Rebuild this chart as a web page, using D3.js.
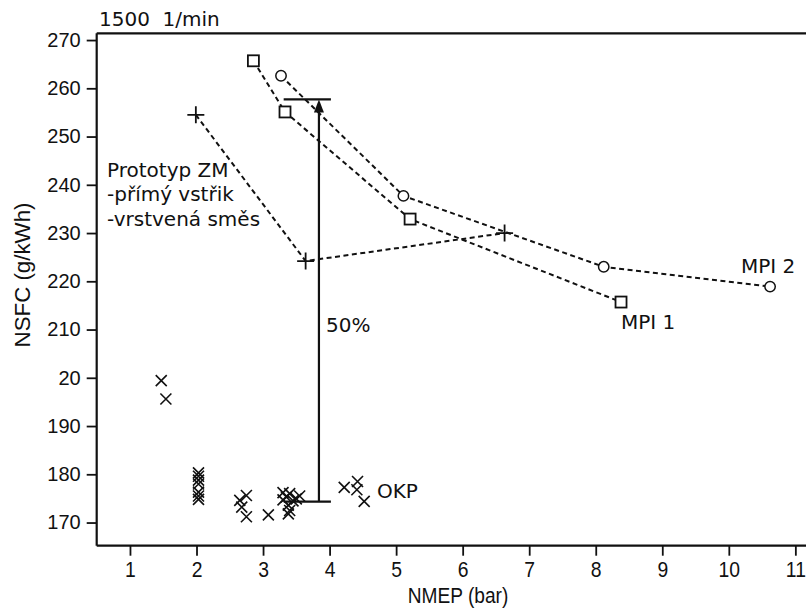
<!DOCTYPE html>
<html>
<head>
<meta charset="utf-8">
<script src="https://cdn.jsdelivr.net/npm/d3@7"></script>
<style>
  html, body { margin: 0; padding: 0; background: #fff; }
  svg { display: block; }
  .anno { font-family: "DejaVu Sans", Verdana, sans-serif; font-size: 20px; fill: #111; }
  .ytl { font-family: "Liberation Sans", Arial, sans-serif; font-size: 20px; fill: #111; }
  .narrow { font-family: "Liberation Sans", Arial, sans-serif; fill: #111; }
</style>
</head>
<body>
<svg id="chart" width="806" height="608"></svg>
<script>
// ---- data ----
const xTicks = [1, 2, 3, 4, 5, 6, 7, 8, 9, 10, 11];
const xTickLabels = ["1", "2", "3", "4", "5", "6", "7", "8", "9", "10", "11"];
const yTicks = [170, 180, 190, 200, 210, 220, 230, 240, 250, 260, 270];
const yTickLabels = ["170", "180", "190", "20", "210", "220", "230", "240", "250", "260", "270"];

const mpi1X = [2.855, 3.33, 5.21, 8.38];
const mpi1Y = [265.7, 255.1, 232.9, 215.7];
const mpi2X = [3.27, 5.11, 8.12, 10.62];
const mpi2Y = [262.6, 237.7, 223.0, 218.9];
const zmX = [1.99, 3.64, 6.63];
const zmY = [254.5, 224.2, 230.0];

const okpX = [1.47, 1.54,
  2.03, 2.03, 2.03, 2.03, 2.03, 2.03, 2.03,
  2.65, 2.75, 2.68, 2.75,
  3.08,
  3.30, 3.40, 3.35, 3.30, 3.45, 3.38, 3.40, 3.38, 3.55, 3.50,
  4.22, 4.42, 4.41, 4.52];
const okpY = [199.4, 195.6,
  180.3, 179.6, 178.8, 178.0, 176.3, 175.5, 174.8,
  174.6, 175.6, 173.2, 171.2,
  171.6,
  176.2, 176.0, 175.3, 174.7, 174.5, 173.6, 172.5, 171.8, 175.5, 174.9,
  177.3, 178.5, 176.8, 174.4];

const arrowX = 3.84;
const arrowFromY = 174.35;
const arrowToY = 257.7;
const barX = [3.31, 4.02];

const speedLabel = "1500\u00a0\u00a01/min";
const xTitle = "NMEP (bar)";
const yTitle = "NSFC (g/kWh)";
const zmLabel = ["Prototyp ZM", "-přímý vstřik", "-vrstvená směs"];

// ---- scales ----
const svg = d3.select("#chart");
const mL = 96.7, mT = 33.3, mB = 545.7, mR = 806;
const x = d3.scaleLinear().domain([0.5, 11.16]).range([mL, mR]);
const y = d3.scaleLinear().domain([165.2, 271.4]).range([mB, mT]);

// ---- axes ----
const gx = svg.append("g").attr("transform", `translate(0,${mB})`)
  .call(d3.axisBottom(x).tickValues(xTicks).tickSize(10).tickFormat((d, i) => xTickLabels[i]));
gx.select(".domain").attr("stroke", "#111").attr("stroke-width", 2.2).attr("d", `M${mL},0H${mR}`);
gx.selectAll(".tick line").attr("stroke", "#111").attr("stroke-width", 1.8);
gx.selectAll(".tick text").remove();
gx.selectAll(".tick").append("text")
  .attr("class", "narrow")
  .attr("font-size", "22.5px")
  .attr("text-anchor", "middle")
  .attr("transform", "translate(0,31) scale(0.86,1)")
  .text((d, i) => xTickLabels[i]);

const gy = svg.append("g").attr("transform", `translate(${mL},0)`)
  .call(d3.axisLeft(y).tickValues(yTicks).tickSize(10).tickPadding(6).tickFormat((d, i) => yTickLabels[i]));
gy.select(".domain").attr("stroke", "#111").attr("stroke-width", 2.2).attr("d", `M0,${mT}V${mB}`);
gy.selectAll(".tick line").attr("stroke", "#111").attr("stroke-width", 1.8);
gy.selectAll(".tick text").attr("class", "ytl").attr("font-family", null).attr("font-size", null).attr("fill", null);
gy.attr("font-family", null).attr("font-size", null);
gx.attr("font-family", null).attr("font-size", null);

// top frame line
svg.append("line").attr("x1", mL).attr("x2", mR).attr("y1", mT).attr("y2", mT)
  .attr("stroke", "#111").attr("stroke-width", 2.2);

// axis titles
svg.append("text").attr("class", "narrow").attr("font-size", "22.5px")
  .attr("text-anchor", "middle")
  .attr("transform", `translate(458,602.5) scale(0.85,1)`).text(xTitle);
svg.append("text").attr("class", "narrow").attr("font-size", "23px")
  .attr("text-anchor", "middle")
  .attr("transform", `translate(30,275) rotate(-90) scale(0.97,1)`).text(yTitle);

// speed label
svg.append("text").attr("class", "anno").attr("x", 99).attr("y", 26)
  .style("white-space", "pre").text(speedLabel);

// ---- dashed series lines ----
const line = d3.line().x(d => x(d[0])).y(d => y(d[1]));
function dashed(xs, ys) {
  svg.append("path").datum(xs.map((v, i) => [v, ys[i]]))
    .attr("d", line).attr("fill", "none").attr("stroke", "#111")
    .attr("stroke-width", 2).attr("stroke-dasharray", "5,3.5");
}
dashed(mpi1X, mpi1Y);
dashed(mpi2X, mpi2Y);
dashed(zmX, zmY);

// ---- arrow ----
svg.append("line").attr("x1", x(arrowX)).attr("x2", x(arrowX))
  .attr("y1", y(arrowFromY)).attr("y2", y(arrowToY) + 8)
  .attr("stroke", "#111").attr("stroke-width", 2.2);
svg.append("path")
  .attr("d", `M${x(arrowX)},${y(arrowToY)} l-5,13 h10 z`).attr("fill", "#111");
[arrowFromY, arrowToY].forEach(v => {
  svg.append("line").attr("x1", x(barX[0])).attr("x2", x(barX[1]))
    .attr("y1", y(v)).attr("y2", y(v)).attr("stroke", "#111").attr("stroke-width", 2.2);
});

// ---- markers ----
// OKP crosses
svg.append("g").selectAll("path").data(okpX.map((v, i) => [v, okpY[i]])).join("path")
  .attr("d", d => { const cx = x(d[0]), cy = y(d[1]), s = 5.5;
    return `M${cx - s},${cy - s}L${cx + s},${cy + s}M${cx - s},${cy + s}L${cx + s},${cy - s}`; })
  .attr("stroke", "#111").attr("stroke-width", 1.6).attr("fill", "none");

// ZM plus
svg.append("g").selectAll("path").data(zmX.map((v, i) => [v, zmY[i]])).join("path")
  .attr("d", d => { const cx = x(d[0]), cy = y(d[1]), s = 8.5;
    return `M${cx - s},${cy}H${cx + s}M${cx},${cy - s}V${cy + s}`; })
  .attr("stroke", "#111").attr("stroke-width", 1.8).attr("fill", "none");

// MPI 1 squares
svg.append("g").selectAll("rect").data(mpi1X.map((v, i) => [v, mpi1Y[i]])).join("rect")
  .attr("x", d => x(d[0]) - 5.5).attr("y", d => y(d[1]) - 5.5)
  .attr("width", 11).attr("height", 11)
  .attr("fill", "#fff").attr("stroke", "#111").attr("stroke-width", 1.8);

// MPI 2 circles
svg.append("g").selectAll("circle").data(mpi2X.map((v, i) => [v, mpi2Y[i]])).join("circle")
  .attr("cx", d => x(d[0])).attr("cy", d => y(d[1])).attr("r", 5.2)
  .attr("fill", "#fff").attr("stroke", "#111").attr("stroke-width", 1.5);

// ---- annotations ----
const zm = svg.append("text").attr("class", "anno");
zmLabel.forEach((t, i) => zm.append("tspan").attr("x", 107).attr("y", 176.5 + i * 24.5).text(t));
svg.append("text").attr("class", "anno").attr("x", 326).attr("y", 332).text("50%");
svg.append("text").attr("class", "anno").attr("x", 377).attr("y", 498).text("OKP");
svg.append("text").attr("class", "anno").attr("x", 741).attr("y", 273).text("MPI 2");
svg.append("text").attr("class", "anno").attr("x", 621).attr("y", 329).text("MPI 1");
</script>
</body>
</html>
